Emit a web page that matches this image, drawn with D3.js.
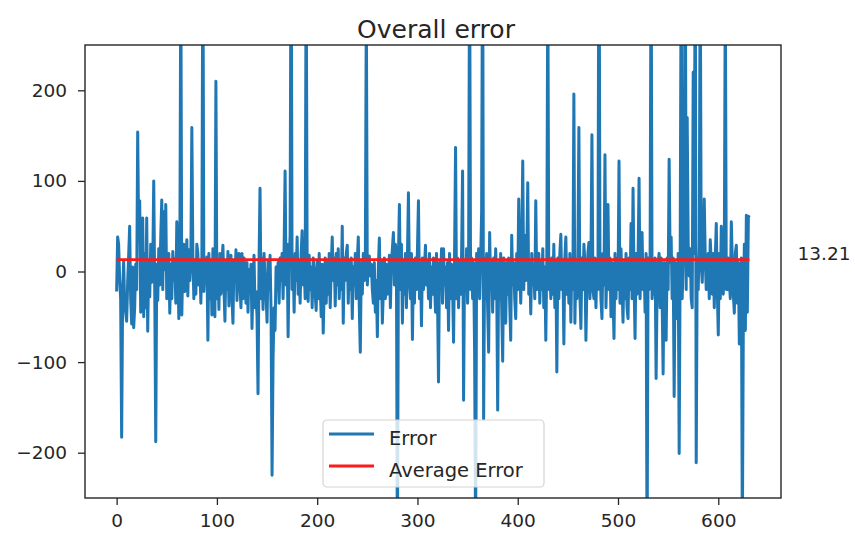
<!DOCTYPE html>
<html>
<head>
<meta charset="utf-8">
<script src="https://cdn.jsdelivr.net/npm/d3@7"></script>
<style>
    body { margin: 0; background: #fff; }
    text { font-family: "DejaVu Sans", sans-serif; fill: #262626; }
</style>
</head>
<body>
<div id="chart"></div>
<script>
// error per sample (values past +/-250 are clipped)
var errorValues = [
    -22, 38, 30, -8, -30, -183, -25, 12, -38, -45,
    -55, -12, 18, 50, -30, -58, 5, -62, -40, 8,
    -20, 154, 35, 78, -45, 42, 59, -50, 20, -40,
    59, -66, 12, -28, 30, -12, 5, 100, -22, -188,
    8, -32, 25, -15, 38, 79, -20, 66, 2, 74,
    -30, -18, 20, -46, 8, -30, 22, -10, 14, -35,
    55, 18, -52, 6, 340, -48, 12, 30, -22, 4,
    35, -27, 24, -10, 14, 159, 18, -30, 10, -25,
    30, 20, -15, 10, -35, 14, 380, -22, 5, -10,
    16, -76, 20, -30, 10, -48, 25, -20, -50, 210,
    -30, 12, -42, 20, -25, 8, 29, -18, -55, 10,
    -20, 22, -38, 6, 18, -28, -57, 12, -10, 24,
    -32, 5, 20, -15, -40, 20, -30, 15, -5, -35,
    10, -45, 2, -20, 8, -63, -10, 18, -40, -22,
    -50, -135, 10, 92, -30, 15, -42, 20, -8, -25,
    -56, 12, -20, 18, -45, -225, -96, -40, -65, 5,
    -20, 10, -35, 15, -10, 20, -30, 25, 111, -15,
    30, -72, 10, 40, 420, -20, 15, -45, 20, -10,
    38, -25, 12, -35, 20, 45, -15, 8, -30, 360,
    10, -33, 18, -20, 5, -40, 15, 2, -25, -43,
    12, -30, 20, -15, -50, 8, -68, -20, 15, -35,
    10, -25, 20, -40, 5, 38, -10, 15, -38, 20,
    -15, 25, -30, 10, -20, 50, -57, 15, -10, 20,
    29, -35, 10, -20, 15, -52, 5, -15, 20, -30,
    12, 38, -40, -89, 10, -25, 20, -10, 5, 300,
    -15, 10, 17, -5, 8, -20, -35, 10, -45, -10,
    -72, 5, 37, -30, 12, -57, -20, 15, -30, 8,
    -25, -12, 18, -40, 10, 25, 43, -15, 30, 20,
    -330, 15, 74, -20, 30, -57, 10, -25, 20, -40,
    15, 87, -10, -30, 20, -75, 10, -35, 15, -20,
    25, 78, -30, 10, -60, 15, -20, 5, 29, -15,
    10, -30, 20, -40, 5, -25, 15, -10, -45, 20,
    -30, -122, 10, -20, 25, -35, 25, -15, 5, -40,
    10, -65, 20, -30, 8, -15, -78, 20, 137, -30,
    15, -40, 10, -25, 20, 111, -142, 12, -20, 25,
    -35, 10, 360, -20, 15, -30, 10, -90, -300, 20,
    -15, 25, -30, 10, 66, 400, -163, 15, -30, 20,
    -40, -89, 43, -20, 10, -45, 15, -30, 25, -10,
    -153, 10, -30, 20, -40, -99, 15, -20, -57, 10,
    -25, 15, -35, -76, 40, -15, 10, -30, -52, 20,
    -20, 80, 10, -35, 25, 122, -20, 40, -10, 15,
    98, -25, 10, -47, 20, -15, 5, -30, 78, -20,
    15, 20, -35, 10, -20, 25, -40, 5, -76, 15,
    330, -20, 10, -30, 15, -25, 30, -40, 10, -111,
    15, -30, 20, 41, -20, 10, -80, 15, 38, -25,
    10, -35, 20, -56, 15, -20, 196, -57, 10, -30,
    20, 159, -25, -63, 15, -20, 30, 10, -76, -15,
    20, 32, -30, 10, 151, -20, -30, 15, -40, 10,
    -20, 450, 15, -30, -52, 20, -15, 129, -40, 10,
    74, -20, 15, -50, 10, -25, -74, 20, -30, 15,
    -20, 122, -35, 25, -15, -56, 10, -30, 20, -40,
    -52, 15, -20, 53, -30, 92, -10, -74, 20, -25,
    10, 103, -30, 15, 43, -20, 10, -45, 20, -320,
    15, -20, 10, 380, -30, 10, -25, 15, -118, -20,
    10, 20, -40, 15, -30, -113, 10, -20, -76, 15,
    -20, 124, 10, 38, -30, 15, -138, 10, -25, -52,
    20, -201, 15, 360, -30, 10, 40, 430, -20, 170,
    30, -5, 25, -30, -40, 220, 20, 390, -211, 15,
    -20, 30, 350, 10, -12, 25, 80, 15, -20, -10,
    20, -30, 35, 10, -25, 20, -40, 15, 53, -20,
    -70, 20, -30, 50, 10, -25, 15, 320, -20, -20,
    15, -10, -30, 55, 10, -25, -46, 20, 29, -35,
    10, -80, -40, 15, -300, -50, 30, -65, 62, -45,
    60, 62
];

var avgError = 13.21;
var avgLabel = "13.21";
var chartTitle = "Overall error";
var legendLabels = ["Error", "Average Error"];
var xTicks = [0, 100, 200, 300, 400, 500, 600];
var yTicks = [-200, -100, 0, 100, 200];
var yLimits = [-250, 250];

var width = 855, height = 534;
var margin = {left: 85, right: 74, top: 45, bottom: 36};
var blue = "#1f77b4", red = "#ff1a1a";

var svg = d3.select("#chart")
    .append("svg")
    .attr("width", width)
    .attr("height", height);

// matplotlib style 5% padding on the x range
var last = errorValues.length - 1;
var x = d3.scaleLinear()
    .domain([-0.05 * last, last * 1.05])
    .range([margin.left, width - margin.right]);

var y = d3.scaleLinear()
    .domain(yLimits)
    .range([height - margin.bottom, margin.top]);

svg.append("defs").append("clipPath")
    .attr("id", "plot-clip")
    .append("rect")
    .attr("x", margin.left)
    .attr("y", margin.top)
    .attr("width", width - margin.left - margin.right)
    .attr("height", height - margin.top - margin.bottom);

var line = d3.line()
    .x((d, i) => x(i))
    .y(d => y(d));

var plot = svg.append("g").attr("clip-path", "url(#plot-clip)");

plot.append("path")
    .datum(errorValues)
    .attr("d", line)
    .attr("fill", "none")
    .attr("stroke", blue)
    .attr("stroke-width", 3)
    .attr("stroke-linejoin", "round");

// average line, same length as the series
plot.append("path")
    .datum(errorValues.map(() => avgError))
    .attr("d", line)
    .attr("fill", "none")
    .attr("stroke", red)
    .attr("stroke-width", 2.8);

var xAxis = d3.axisBottom(x).tickValues(xTicks).tickSize(7).tickPadding(9);
var yAxis = d3.axisLeft(y).tickValues(yTicks).tickSize(7).tickPadding(11)
    .tickFormat(d => d < 0 ? "\u2212" + Math.abs(d) : d);

svg.append("g")
    .attr("class", "axis")
    .attr("transform", "translate(0," + (height - margin.bottom) + ")")
    .call(xAxis);

svg.append("g")
    .attr("class", "axis")
    .attr("transform", "translate(" + margin.left + ",0)")
    .call(yAxis);

svg.selectAll(".axis .domain").remove();
svg.selectAll(".axis line").attr("stroke", "#262626").attr("stroke-width", 1.3);
svg.selectAll(".axis text")
    .style("font-family", "'DejaVu Sans', sans-serif")
    .style("font-size", "18.5px")
    .attr("fill", "#262626");

// frame
svg.append("rect")
    .attr("x", margin.left)
    .attr("y", margin.top)
    .attr("width", width - margin.left - margin.right)
    .attr("height", height - margin.top - margin.bottom)
    .attr("fill", "none")
    .attr("stroke", "#262626")
    .attr("stroke-width", 1.4);

svg.append("text")
    .attr("x", (margin.left + width - margin.right) / 2 + 3)
    .attr("y", 38)
    .attr("text-anchor", "middle")
    .style("font-size", "25px")
    .text(chartTitle);

svg.append("text")
    .attr("x", x(679))
    .attr("y", y(avgError))
    .style("font-size", "18.5px")
    .text(avgLabel);

// legend
var legend = svg.append("g").attr("transform", "translate(323,420)");

legend.append("rect")
    .attr("width", 221)
    .attr("height", 67)
    .attr("rx", 4)
    .attr("fill", "#fff")
    .attr("fill-opacity", 0.8)
    .attr("stroke", "#d4d4d4")
    .attr("stroke-width", 1.2);

var colors = [blue, red];
legendLabels.forEach((label, i) => {
    legend.append("line")
        .attr("x1", 6).attr("x2", 51)
        .attr("y1", 14 + i * 32).attr("y2", 14 + i * 32)
        .attr("stroke", colors[i])
        .attr("stroke-width", 3);
    legend.append("text")
        .attr("x", 66)
        .attr("y", 25 + i * 32)
        .style("font-size", "19.5px")
        .text(label);
});
</script>
</body>
</html>
